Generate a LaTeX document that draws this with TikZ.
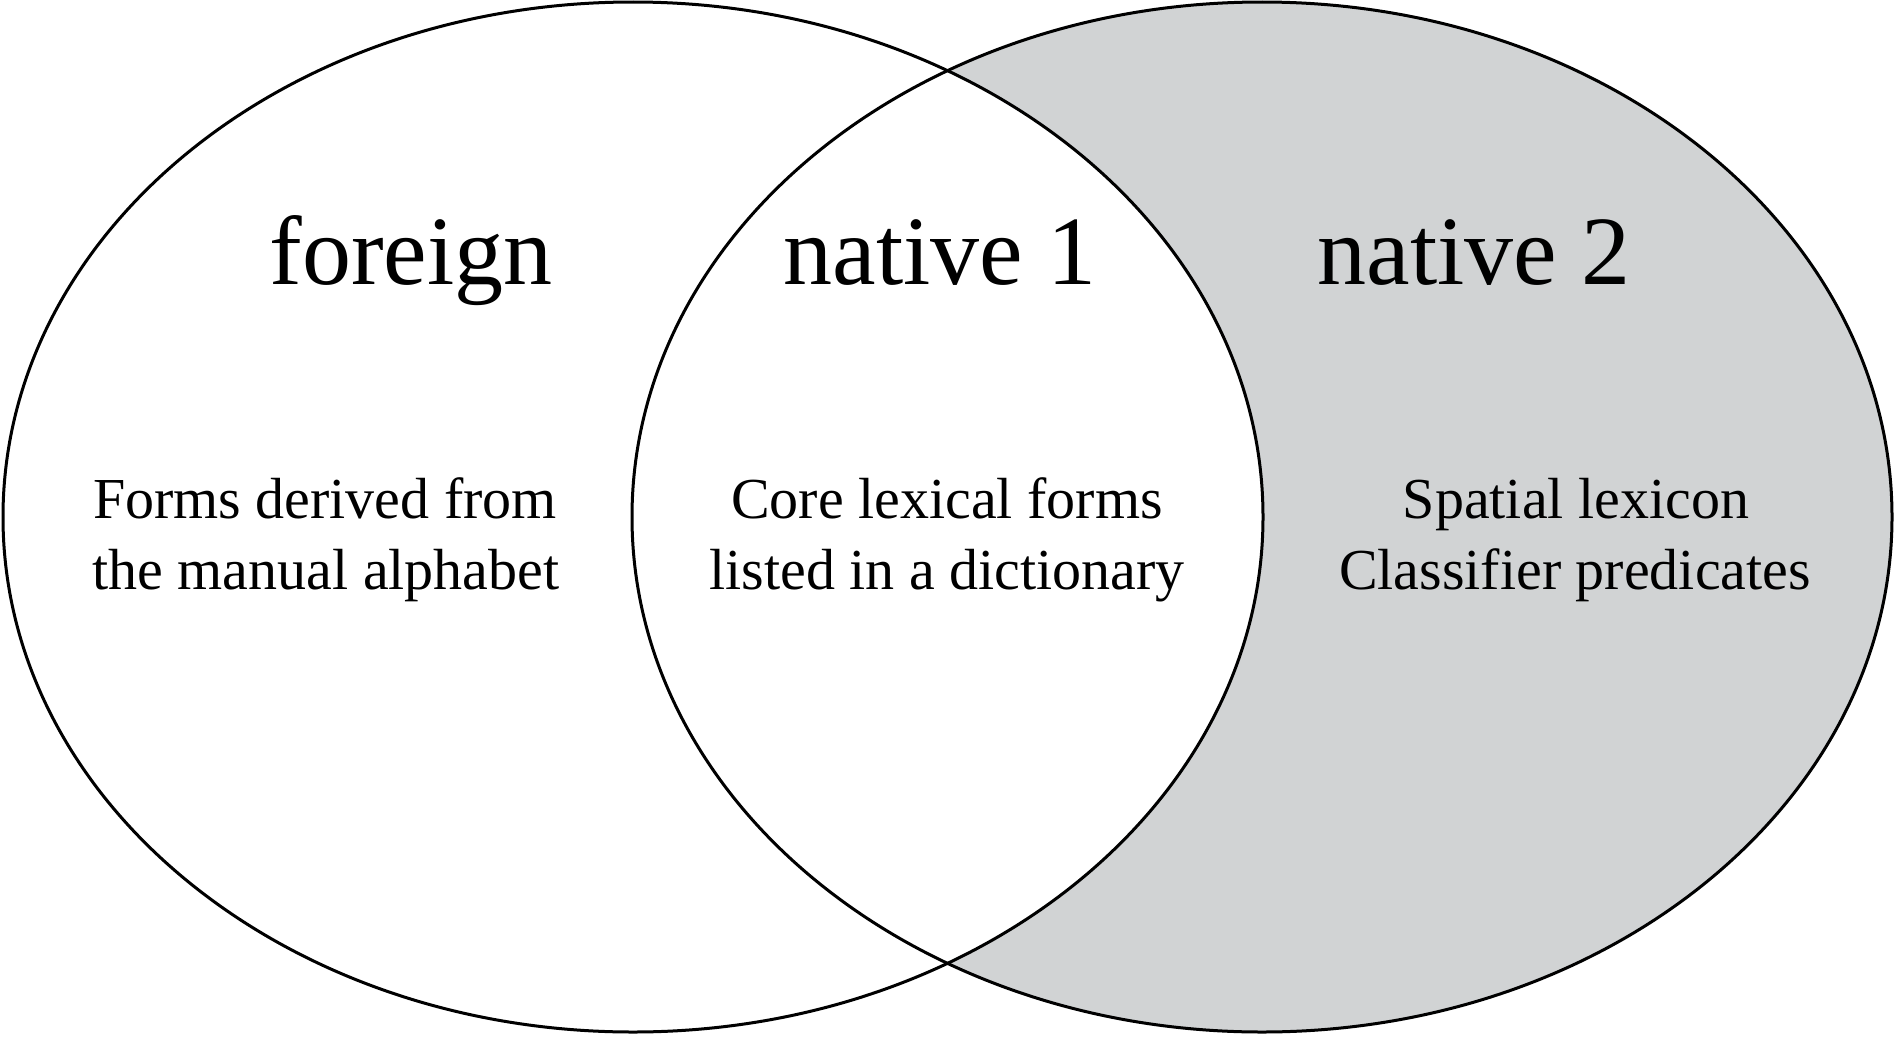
\documentclass[tikz,border=0pt]{standalone}
\usepackage{fontspec}
\setmainfont{Liberation Serif}
\definecolor{vgray}{RGB}{209,211,212}
\begin{document}
\begin{tikzpicture}[x=1pt,y=-1pt,
  title/.style={inner sep=0pt,anchor=base,font=\fontsize{98}{98}\selectfont},
  body/.style={inner sep=0pt,anchor=base,font=\fontsize{58}{58}\selectfont},
  ring/.style={line width=3pt}]
\useasboundingbox (0,0) rectangle (1895,1036);
\fill[white] (0,0) rectangle (1895,1036);
\fill[vgray] (1262,517) ellipse [x radius=630pt, y radius=515pt];
\fill[white] (633,517) ellipse [x radius=630pt, y radius=515pt];
\draw[ring] (633,517) ellipse [x radius=630pt, y radius=515pt];
\draw[ring] (1262,517) ellipse [x radius=630pt, y radius=515pt];
\node[title] (foreign) at (411,284) {foreign};
\node[title] (nativeA) at (940,284) {native 1};
\node[title] (nativeB) at (1474,284) {native 2};
\node[body] (f1) at (325,518) {Forms derived from};
\node[body] (f2) at (326,589) {the manual alphabet};
\node[body] (c1) at (947,518) {Core lexical forms};
\node[body] (c2) at (947,589) {listed in a dictionary};
\node[body] (s1) at (1576,518) {Spatial lexicon};
\node[body] (s2) at (1575,589) {Classifier predicates};
\end{tikzpicture}
\end{document}
